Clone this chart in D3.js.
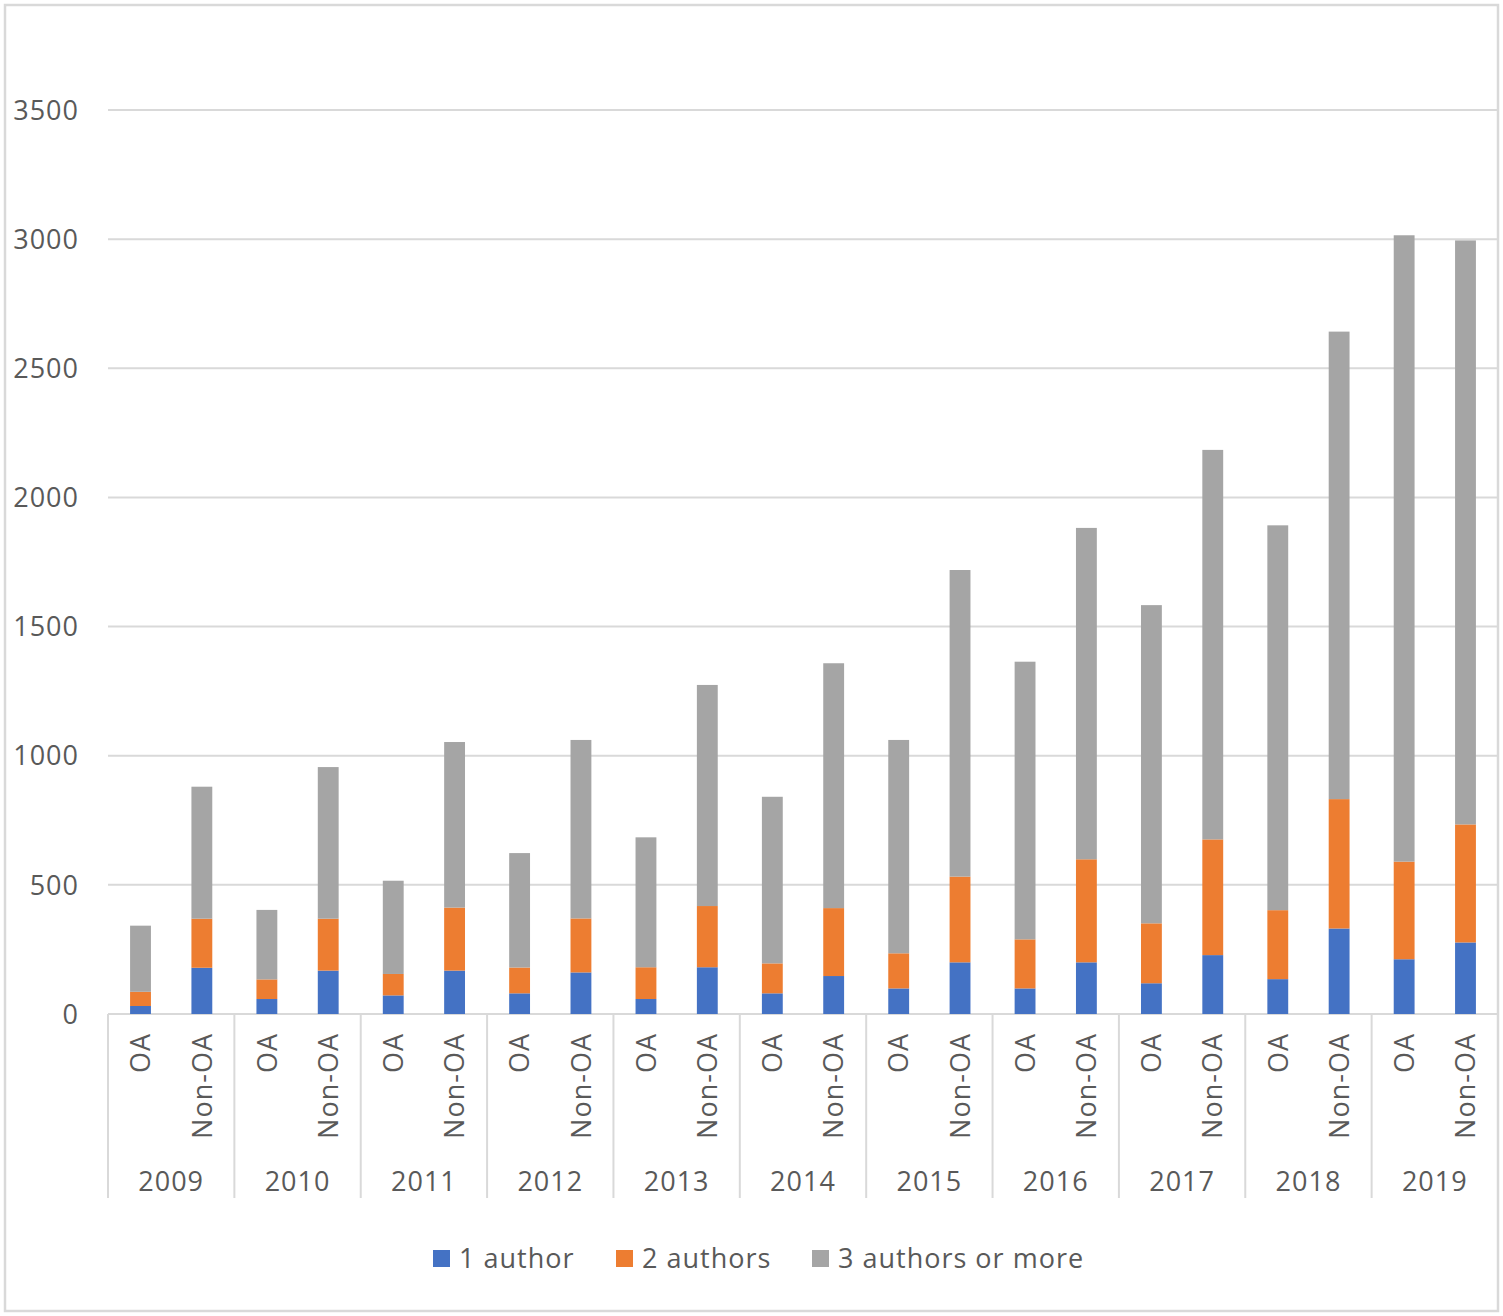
<!DOCTYPE html>
<html><head><meta charset="utf-8">
<script src="https://cdn.jsdelivr.net/npm/d3@7"></script>
<style>body{margin:0;background:#fff}text{font-family:"Open Sans",sans-serif;fill:#595959;letter-spacing:1px}</style>
</head><body><svg id="c" width="1503" height="1316"></svg>
<script>
const years = ["2009","2010","2011","2012","2013","2014","2015","2016","2017","2018","2019"];
const groups = ["OA","Non-OA"];
const seriesNames = ["1 author","2 authors","3 authors or more"];
const seriesColors = ["#4472C4","#ED7D31","#A5A5A5"];
const yTicks = [0,500,1000,1500,2000,2500,3000,3500];
// values per year, [OA, Non-OA]
const oneAuthor   = [[31,179],[58,168],[72,168],[80,161],[58,181],[80,147],[99,200],[99,200],[119,228],[135,331],[212,277]];
const twoAuthors  = [[55,190],[76,201],[83,244],[100,209],[123,237],[116,263],[136,332],[190,399],[232,448],[267,501],[378,457]];
const threePlus   = [[256,511],[269,587],[361,641],[443,691],[503,856],[645,948],[826,1187],[1075,1283],[1232,1508],[1490,1810],[2425,2261]];

const rows = [];
years.forEach((yr,i)=>groups.forEach((g,j)=>rows.push({year:yr,group:g,
  "1 author":oneAuthor[i][j],"2 authors":twoAuthors[i][j],"3 authors or more":threePlus[i][j]})));

const svg = d3.select("#c");
const W=1503,H=1316;
const pLeft=108,pRight=1498,pTop=110,pBottom=1014;
const grid="#D9D9D9";

// outer border
svg.append("rect").attr("x",5).attr("y",5).attr("width",W-10).attr("height",H-10)
  .attr("fill","none").attr("stroke",grid).attr("stroke-width",2.5);

const y = d3.scaleLinear().domain([0,3500]).range([pBottom,pTop]);
const x0 = d3.scaleBand().domain(years).range([pLeft,pRight]).padding(0);
const x1 = d3.scaleBand().domain(groups).range([0,x0.bandwidth()]).paddingInner(0.66).paddingOuter(0.36);

// gridlines
svg.append("g").selectAll("line").data(yTicks).join("line")
  .attr("x1",pLeft).attr("x2",pRight).attr("y1",d=>y(d)).attr("y2",d=>y(d))
  .attr("stroke",grid).attr("stroke-width",2);

// y labels
svg.append("g").selectAll("text").data(yTicks).join("text")
  .attr("x",79).attr("y",d=>y(d)).attr("dy","0.36em").attr("text-anchor","end")
  .attr("font-size",27).text(d=>d);

// stacked bars
const stack = d3.stack().keys(seriesNames)(rows);
const color = d3.scaleOrdinal().domain(seriesNames).range(seriesColors);
svg.append("g").selectAll("g").data(stack).join("g").attr("fill",d=>color(d.key))
  .selectAll("rect").data(d=>d).join("rect")
  .attr("x",d=>x0(d.data.year)+x1(d.data.group))
  .attr("width",x1.bandwidth())
  .attr("y",d=>y(d[1])).attr("height",d=>y(d[0])-y(d[1]));

// group dividers
const divs = years.map(yr=>x0(yr)).concat([pRight]);
svg.append("g").selectAll("line").data(divs).join("line")
  .attr("x1",d=>d).attr("x2",d=>d).attr("y1",pBottom).attr("y2",1198)
  .attr("stroke",grid).attr("stroke-width",2);

// category labels (rotated)
const cat = svg.append("g");
years.forEach(yr=>groups.forEach(g=>{
  const cx = x0(yr)+x1(g)+x1.bandwidth()/2;
  cat.append("text").attr("transform",`translate(${cx},1033) rotate(-90)`)
    .attr("text-anchor","end").attr("dy","0.36em").attr("font-size",27).text(g);
}));
// year labels
svg.append("g").selectAll("text").data(years).join("text")
  .attr("x",d=>x0(d)+x0.bandwidth()/2).attr("y",1181).attr("dy","0.36em")
  .attr("text-anchor","middle").attr("font-size",27).text(d=>d);

// legend
const legX=[433,616,812];
const lg = svg.append("g");
seriesNames.forEach((s,i)=>{
  lg.append("rect").attr("x",legX[i]).attr("y",1250).attr("width",17).attr("height",17).attr("fill",seriesColors[i]);
  lg.append("text").attr("x",legX[i]+26).attr("y",1258).attr("dy","0.36em").attr("font-size",27).text(s);
});
</script></body></html>
